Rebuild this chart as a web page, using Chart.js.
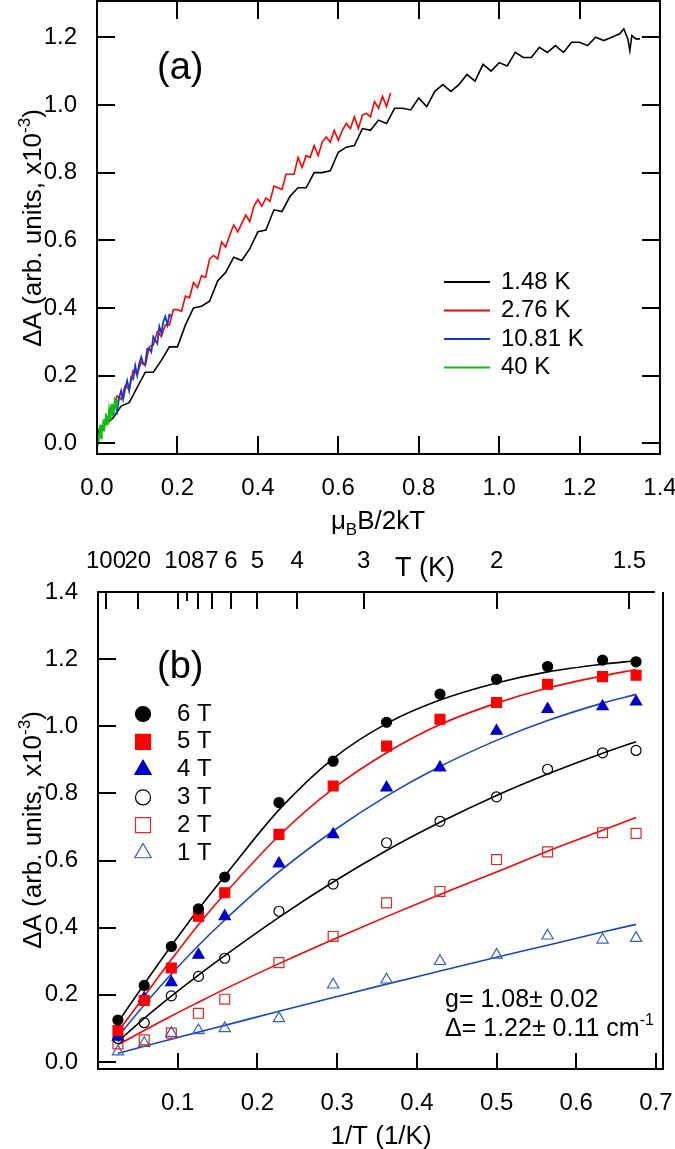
<!DOCTYPE html>
<html>
<head>
<meta charset="utf-8">
<script src="https://cdn.jsdelivr.net/npm/chart.js"></script>
<style>
  html, body { margin: 0; padding: 0; background: #fff; }
  #wrap { position: relative; width: 675px; height: 1149px; overflow: hidden; }
  canvas { position: absolute; left: 0; }
  #chartA { top: 0; }
  #chartB { top: 545px; }
</style>
</head>
<body>
<div id="wrap">
  <canvas id="chartA" width="675" height="545"></canvas>
  <canvas id="chartB" width="675" height="604"></canvas>
</div>
<script>
const FONT = '"Liberation Sans", Arial, Helvetica, sans-serif';

// ---- panel (a): dA vs muB B / 2kT ----
const xTicksA = [0, 0.2, 0.4, 0.6, 0.8, 1.0, 1.2, 1.4];
const yTicksA = [0, 0.2, 0.4, 0.6, 0.8, 1.0, 1.2];
const legendA = ["1.48 K", "2.76 K", "10.81 K", "40 K"];

const blackX = [0, 0.005, 0.01, 0.02, 0.03, 0.04, 0.06, 0.08, 0.10, 0.12, 0.14, 0.16, 0.18, 0.20, 0.22, 0.24,
  0.26, 0.28, 0.30, 0.32, 0.34, 0.36, 0.38, 0.40, 0.42, 0.44, 0.46, 0.48, 0.50, 0.52, 0.54, 0.56, 0.58, 0.60,
  0.62, 0.64, 0.66, 0.68, 0.70, 0.72, 0.74, 0.76, 0.78, 0.80, 0.82, 0.84, 0.86, 0.88, 0.90, 0.92, 0.94, 0.96,
  0.98, 1.00, 1.02, 1.04, 1.06, 1.08, 1.10, 1.12, 1.14, 1.16, 1.18, 1.20, 1.22, 1.24, 1.26, 1.28, 1.30, 1.31,
  1.32, 1.325, 1.33, 1.34, 1.35];
const blackY = [0.00, 0.04, 0.05, 0.055, 0.065, 0.075, 0.11, 0.12, 0.165, 0.21, 0.21, 0.245, 0.285, 0.285, 0.35, 0.40,
  0.405, 0.42, 0.48, 0.505, 0.55, 0.54, 0.575, 0.625, 0.63, 0.69, 0.685, 0.73, 0.755, 0.755, 0.80, 0.80, 0.805, 0.86,
  0.875, 0.88, 0.93, 0.925, 0.955, 0.945, 0.99, 0.99, 0.985, 1.02, 0.995, 1.04, 1.06, 1.04, 1.06, 1.09, 1.07, 1.12,
  1.10, 1.125, 1.115, 1.155, 1.14, 1.14, 1.17, 1.155, 1.175, 1.155, 1.185, 1.185, 1.175, 1.20, 1.19, 1.20, 1.21, 1.225,
  1.195, 1.16, 1.205, 1.195, 1.195];

const redX = [0.04, 0.05, 0.06, 0.07, 0.08, 0.09, 0.10, 0.11, 0.12, 0.13, 0.14, 0.15, 0.16, 0.17, 0.18, 0.19,
  0.20, 0.21, 0.22, 0.23, 0.24, 0.25, 0.26, 0.27, 0.28, 0.29, 0.30, 0.31, 0.32, 0.33, 0.34, 0.35, 0.36, 0.37,
  0.38, 0.39, 0.40, 0.41, 0.42, 0.43, 0.44, 0.45, 0.46, 0.47, 0.48, 0.49, 0.50, 0.51, 0.52, 0.53, 0.54, 0.55,
  0.56, 0.57, 0.58, 0.59, 0.60, 0.61, 0.62, 0.63, 0.64, 0.65, 0.66, 0.67, 0.68, 0.69, 0.70, 0.71, 0.72, 0.73];
const redY = [0.105, 0.14, 0.13, 0.17, 0.16, 0.215, 0.205, 0.24, 0.23, 0.285, 0.29, 0.33, 0.315, 0.35, 0.35, 0.395,
  0.395, 0.39, 0.435, 0.43, 0.475, 0.46, 0.495, 0.49, 0.545, 0.555, 0.545, 0.595, 0.58, 0.615, 0.645, 0.625, 0.65, 0.675,
  0.655, 0.70, 0.72, 0.70, 0.725, 0.715, 0.76, 0.755, 0.75, 0.795, 0.795, 0.795, 0.845, 0.815, 0.85, 0.845, 0.88, 0.85,
  0.89, 0.905, 0.89, 0.925, 0.895, 0.925, 0.945, 0.93, 0.965, 0.93, 0.97, 0.975, 0.965, 1.01, 0.99, 1.025, 0.995, 1.035];

const blueX = [0.030, 0.035, 0.040, 0.045, 0.050, 0.055, 0.060, 0.065, 0.070, 0.075, 0.080, 0.085, 0.090, 0.095,
  0.100, 0.105, 0.110, 0.115, 0.120, 0.125, 0.130, 0.135, 0.140, 0.145, 0.150, 0.155, 0.160, 0.165, 0.170,
  0.175, 0.180, 0.185];
const blueY = [0.075, 0.105, 0.085, 0.12, 0.095, 0.135, 0.155, 0.13, 0.16, 0.185, 0.155, 0.195, 0.19, 0.23,
  0.20, 0.235, 0.255, 0.235, 0.235, 0.28, 0.28, 0.27, 0.315, 0.305, 0.295, 0.345, 0.325, 0.36, 0.375,
  0.35, 0.38, 0.375];

const greenX = [0.000, 0.002, 0.004, 0.006, 0.008, 0.010, 0.012, 0.014, 0.016, 0.018, 0.020, 0.022, 0.024,
  0.026, 0.028, 0.030, 0.032, 0.034, 0.036, 0.038, 0.040, 0.042, 0.044, 0.046, 0.048, 0.050];
const greenY = [-0.005, 0.03, 0.005, 0.035, 0.055, 0.015, 0.055, 0.035, 0.07, 0.035, 0.07, 0.089, 0.053,
  0.082, 0.056, 0.10, 0.084, 0.068, 0.117, 0.086, 0.115, 0.084, 0.128, 0.122, 0.101, 0.13];

// ---- panel (b): dA vs 1/T ----
const invT = [0.025, 0.058, 0.092, 0.126, 0.159, 0.227, 0.295, 0.362, 0.429, 0.5, 0.564, 0.633, 0.675];
const xTicksB = [0.1, 0.2, 0.3, 0.4, 0.5, 0.6, 0.7];
const yTicksB = [0, 0.2, 0.4, 0.6, 0.8, 1.0, 1.2, 1.4];
const topT = [100, 20, 10, 9, 8, 7, 6, 5, 4, 3, 2, 1.5];
const topLabels = ["100", "20", "10", "", "8", "7", "6", "5", "4", "3", "2", "1.5"];
const fieldLabels = ["6 T", "5 T", "4 T", "3 T", "2 T", "1 T"];

const dA6 = [0.125, 0.228, 0.344, 0.456, 0.551, 0.773, 0.896, 1.012, 1.096, 1.14, 1.178, 1.197, 1.192];
const dA5 = [0.094, 0.183, 0.28, 0.434, 0.504, 0.678, 0.822, 0.941, 1.021, 1.071, 1.125, 1.148, 1.152];
const dA4 = [0.075, 0.19, 0.237, 0.319, 0.434, 0.591, 0.678, 0.817, 0.877, 0.986, 1.051, 1.059, 1.073];
const dA3 = [0.07, 0.117, 0.197, 0.255, 0.309, 0.449, 0.53, 0.653, 0.717, 0.79, 0.872, 0.921, 0.928];
const dA2 = [0.054, 0.066, 0.086, 0.145, 0.187, 0.296, 0.374, 0.474, 0.508, 0.603, 0.626, 0.683, 0.681];
const dA1 = [0.031, 0.056, 0.086, 0.094, 0.1, 0.13, 0.23, 0.245, 0.3, 0.319, 0.376, 0.364, 0.369];

const fit6 = [0.118, 0.232, 0.346, 0.455, 0.554, 0.751, 0.904, 1.008, 1.078, 1.129, 1.162, 1.185, 1.195];
const fit5 = [0.09, 0.196, 0.305, 0.409, 0.501, 0.674, 0.814, 0.921, 1.005, 1.069, 1.114, 1.15, 1.169];
const fit4 = [0.076, 0.17, 0.262, 0.347, 0.423, 0.566, 0.688, 0.792, 0.88, 0.958, 1.017, 1.069, 1.095];
const fit3 = [0.061, 0.13, 0.196, 0.259, 0.317, 0.431, 0.536, 0.63, 0.714, 0.794, 0.858, 0.92, 0.954];
const fit2 = [0.051, 0.094, 0.137, 0.178, 0.217, 0.293, 0.365, 0.433, 0.499, 0.566, 0.628, 0.69, 0.728];
const fit1 = [0.026, 0.047, 0.068, 0.089, 0.109, 0.151, 0.192, 0.232, 0.271, 0.312, 0.348, 0.387, 0.41];

function pts(xs, ys) {
  return xs.map((x, i) => ({ x, y: ys[i] }));
}

function line(ctx, x1, y1, x2, y2) {
  ctx.beginPath();
  ctx.moveTo(x1, y1);
  ctx.lineTo(x2, y2);
  ctx.stroke();
}

function ticksX(ctx, scale, values, y, len) {
  values.forEach((v) => {
    const px = Math.round(scale.getPixelForValue(v));
    line(ctx, px, y, px, y + len);
  });
}

function ticksY(ctx, scale, values, x, len) {
  values.forEach((v) => {
    const py = Math.round(scale.getPixelForValue(v));
    line(ctx, x, py, x + len, py);
  });
}

// parts: [text, size, dy]
function rich(ctx, parts, x, y, align) {
  let w = 0;
  parts.forEach((p) => {
    ctx.font = `${p[1]}px ${FONT}`;
    w += ctx.measureText(p[0]).width;
  });
  let cx = align === "center" ? x - w / 2 : x;
  ctx.textAlign = "left";
  ctx.textBaseline = "alphabetic";
  parts.forEach((p) => {
    ctx.font = `${p[1]}px ${FONT}`;
    ctx.fillText(p[0], cx, y + (p[2] || 0));
    cx += ctx.measureText(p[0]).width;
  });
}

function yTitle(ctx, cy) {
  ctx.save();
  ctx.translate(41, cy);
  ctx.rotate(-Math.PI / 2);
  rich(ctx, [["\u0394A (arb. units, x10", 26], ["-3", 17, -11], [")", 26]], 0, 0, "center");
  ctx.restore();
}

function marker(ctx, style, r, x, y) {
  ctx.beginPath();
  if (style === "circle") {
    ctx.arc(x, y, r, 0, Math.PI * 2);
  } else if (style === "rect") {
    ctx.rect(x - r, y - r, 2 * r, 2 * r);
  } else {
    const h = r * 0.866;
    ctx.moveTo(x, y - r);
    ctx.lineTo(x + h, y + r / 2);
    ctx.lineTo(x - h, y + r / 2);
    ctx.closePath();
  }
}

const tickFont = { family: FONT, size: 24 };

// ---------- chart (a) ----------
const seriesA = [
  { label: legendA[0], data: pts(blackX, blackY), color: "#000000", width: 1.6, order: 4 },
  { label: legendA[1], data: pts(redX, redY), color: "#ff0000", width: 1.6, order: 3 },
  { label: legendA[2], data: pts(blueX, blueY), color: "#1638c8", width: 1.8, order: 2 },
  { label: legendA[3], data: pts(greenX, greenY), color: "#10c010", width: 1.8, order: 1 },
];

const decorA = {
  id: "decorA",
  afterDraw(chart) {
    const { ctx, chartArea: a, scales } = chart;
    ctx.save();
    ctx.strokeStyle = "#000";
    ctx.lineWidth = 2;
    ctx.strokeRect(a.left, a.top, a.right - a.left, a.bottom - a.top);
    ticksX(ctx, scales.x, xTicksA, a.bottom, -18);
    ticksX(ctx, scales.x, xTicksA, a.top, 18);
    ticksY(ctx, scales.y, yTicksA, a.left, 18);
    ticksY(ctx, scales.y, yTicksA, a.right, -18);

    ctx.fillStyle = "#000";
    rich(ctx, [["(a)", 38]], 157, 79, "left");
    yTitle(ctx, 228);
    rich(ctx, [["\u03bc", 26], ["B", 17, 6], ["B/2kT", 26]], 378, 529, "center");

    // legend
    seriesA.forEach((s, i) => {
      const row = 282 + i * 28.5;
      ctx.strokeStyle = s.color;
      ctx.lineWidth = 2;
      line(ctx, 444, row, 490, row);
      ctx.fillStyle = "#000";
      ctx.font = `24px ${FONT}`;
      ctx.textAlign = "left";
      ctx.textBaseline = "middle";
      ctx.fillText(s.label, 501, row);
    });
    ctx.restore();
  },
};

new Chart(document.getElementById("chartA"), {
  type: "scatter",
  data: {
    datasets: seriesA.map((s) => ({
      label: s.label,
      data: s.data,
      showLine: true,
      borderColor: s.color,
      borderWidth: s.width,
      pointRadius: 0,
      order: s.order,
    })),
  },
  options: {
    responsive: false,
    animation: false,
    layout: { padding: { left: 0, right: 15, top: 1, bottom: 0 } },
    plugins: { legend: { display: false }, tooltip: { enabled: false } },
    scales: {
      x: {
        type: "linear",
        min: 0,
        max: 1.4,
        grid: { display: false },
        border: { display: false },
        afterBuildTicks: (s) => { s.ticks = xTicksA.map((v) => ({ value: v })); },
        afterFit: (s) => { s.height = 91; s.paddingLeft = 0; s.paddingRight = 0; },
        ticks: { font: tickFont, color: "#000", padding: 12, maxRotation: 0, autoSkip: false,
          callback: (v) => Number(v).toFixed(1) },
      },
      y: {
        type: "linear",
        min: -0.0316,
        max: 1.307,
        grid: { display: false },
        border: { display: false },
        afterBuildTicks: (s) => { s.ticks = yTicksA.map((v) => ({ value: v })); },
        afterFit: (s) => { s.width = 97; s.paddingTop = 0; s.paddingBottom = 0; },
        ticks: { font: tickFont, color: "#000", padding: 12, autoSkip: false,
          callback: (v) => Number(v).toFixed(1) },
      },
    },
  },
  plugins: [decorA],
});

// ---------- chart (b) ----------
const markersB = [
  { label: fieldLabels[0], ys: dA6, fit: fit6, style: "circle", r: 5, fill: "#000000", stroke: "#000000", line: "#000000", lr: 7.5 },
  { label: fieldLabels[1], ys: dA5, fit: fit5, style: "rect", r: 7, fill: "#ff0000", stroke: "#ff0000", line: "#ff0000", lr: 7.5 },
  { label: fieldLabels[2], ys: dA4, fit: fit4, style: "triangle", r: 6.5, fill: "#0000c8", stroke: "#0000c8", line: "#1a46c0", lr: 9.5 },
  { label: fieldLabels[3], ys: dA3, fit: fit3, style: "circle", r: 5, fill: "rgba(0,0,0,0)", stroke: "#000000", line: "#000000", lr: 7.5 },
  { label: fieldLabels[4], ys: dA2, fit: fit2, style: "rect", r: 7, fill: "rgba(0,0,0,0)", stroke: "#e02828", line: "#ff0000", lr: 7.5 },
  { label: fieldLabels[5], ys: dA1, fit: fit1, style: "triangle", r: 6.5, fill: "rgba(0,0,0,0)", stroke: "#3060d0", line: "#1a46c0", lr: 9.5 },
];

const decorB = {
  id: "decorB",
  afterDraw(chart) {
    const { ctx, chartArea: a, scales } = chart;
    ctx.save();
    ctx.strokeStyle = "#000";
    ctx.lineWidth = 2;
    line(ctx, a.left, a.top - 1, a.left, a.bottom + 1);
    line(ctx, a.left - 1, a.bottom, a.right + 1, a.bottom);
    line(ctx, a.right, a.top, a.right, a.bottom + 1);
    line(ctx, a.left - 1, a.top, a.right - 8, a.top);
    ticksX(ctx, scales.x, xTicksB, a.bottom, -16);
    ticksY(ctx, scales.y, yTicksB, a.left, 18);
    topT.forEach((t, i) => {
      const px = Math.round(scales.x2.getPixelForValue(1 / t));
      line(ctx, px, a.top, px, a.top + (topLabels[i] ? 17 : 9));
    });

    ctx.fillStyle = "#000";
    rich(ctx, [["T (K)", 27]], 395, 31, "left");
    rich(ctx, [["(b)", 38]], 157, 133, "left");
    yTitle(ctx, 285);
    rich(ctx, [["1/T (1/K)", 26]], 381, 599, "center");
    rich(ctx, [["g= 1.08\u00b1 0.02", 25]], 445, 462, "left");
    rich(ctx, [["\u0394= 1.22\u00b1 0.11 cm", 25], ["-1", 16, -11]], 445, 491, "left");

    // legend
    markersB.forEach((m, i) => {
      const row = 169 + i * 27.8;
      ctx.fillStyle = m.fill;
      ctx.strokeStyle = m.stroke;
      ctx.lineWidth = 1.2;
      marker(ctx, m.style, m.lr, 143, row);
      ctx.fill();
      ctx.stroke();
      ctx.fillStyle = "#000";
      ctx.font = `24px ${FONT}`;
      ctx.textAlign = "left";
      ctx.textBaseline = "middle";
      ctx.fillText(m.label, 177, row);
    });
    ctx.restore();
  },
};

const datasetsB = [];
markersB.forEach((m) => {
  datasetsB.push({
    label: m.label,
    data: pts(invT, m.ys),
    showLine: false,
    pointStyle: m.style,
    pointRadius: m.r,
    pointBackgroundColor: m.fill,
    pointBorderColor: m.stroke,
    pointBorderWidth: 1.2,
    order: 1,
  });
});
markersB.forEach((m) => {
  datasetsB.push({
    label: m.label + " fit",
    data: pts(invT, m.fit),
    showLine: true,
    borderColor: m.line,
    borderWidth: 1.6,
    pointRadius: 0,
    cubicInterpolationMode: "monotone",
    order: 2,
  });
});

new Chart(document.getElementById("chartB"), {
  type: "scatter",
  data: { datasets: datasetsB },
  options: {
    responsive: false,
    animation: false,
    layout: { padding: { left: 0, right: 12, top: 0, bottom: 0 } },
    plugins: { legend: { display: false }, tooltip: { enabled: false } },
    scales: {
      x: {
        type: "linear",
        position: "bottom",
        min: 0,
        max: 0.7088,
        grid: { display: false },
        border: { display: false },
        afterBuildTicks: (s) => { s.ticks = xTicksB.map((v) => ({ value: v })); },
        afterFit: (s) => { s.height = 80; s.paddingLeft = 0; s.paddingRight = 0; },
        ticks: { font: tickFont, color: "#000", padding: 12, maxRotation: 0, autoSkip: false,
          callback: (v) => Number(v).toFixed(1) },
      },
      x2: {
        type: "linear",
        axis: "x",
        position: "top",
        min: 0,
        max: 0.7088,
        grid: { display: false },
        border: { display: false },
        afterBuildTicks: (s) => { s.ticks = topT.map((t) => ({ value: 1 / t })); },
        afterFit: (s) => { s.height = 47; s.paddingLeft = 0; s.paddingRight = 0; },
        ticks: { font: tickFont, color: "#000", padding: 8, maxRotation: 0, autoSkip: false,
          callback: (v, i) => topLabels[i] },
      },
      y: {
        type: "linear",
        min: -0.0209,
        max: 1.4,
        grid: { display: false },
        border: { display: false },
        afterBuildTicks: (s) => { s.ticks = yTicksB.map((v) => ({ value: v })); },
        afterFit: (s) => { s.width = 98; s.paddingTop = 0; s.paddingBottom = 0; },
        ticks: { font: tickFont, color: "#000", padding: 12, autoSkip: false,
          callback: (v) => Number(v).toFixed(1) },
      },
    },
  },
  plugins: [decorB],
});
</script>
</body>
</html>
